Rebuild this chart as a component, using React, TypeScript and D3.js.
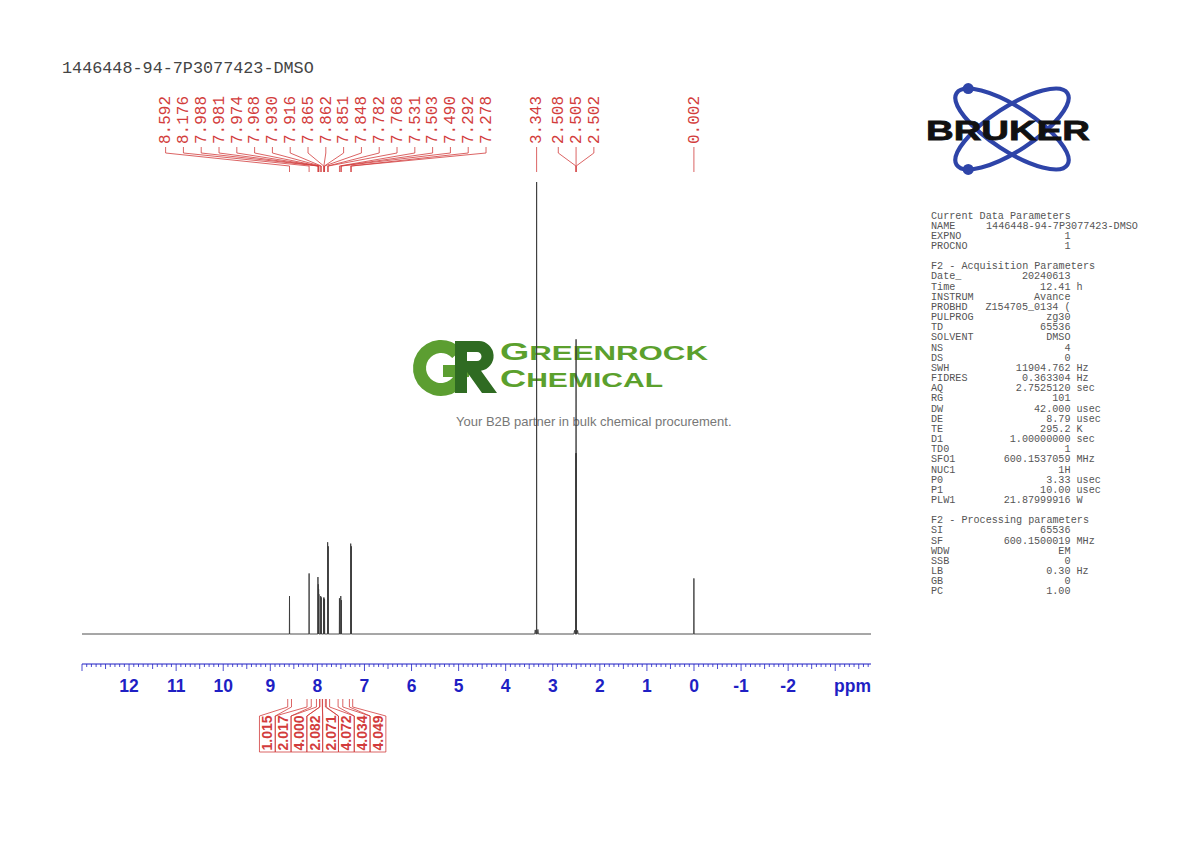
import React from 'react';
import * as d3 from 'd3';

const W = 1190;
const H = 842;

const titleText = '1446448-94-7P3077423-DMSO';

// peak list: chemical shift (ppm) and relative intensity (3.343 = 100)
const peakPpm = [8.592, 8.176, 7.988, 7.981, 7.974, 7.968, 7.930, 7.916, 7.865, 7.862, 7.851, 7.848, 7.782, 7.768, 7.531, 7.503, 7.490, 7.292, 7.278, 3.343, 2.508, 2.505, 2.502, 0.002];
const peakIntensity = [8.4, 13.4, 12.6, 11.0, 9.9, 8.8, 8.4, 8.1, 7.9, 8.1, 7.5, 7.7, 20.3, 19.4, 7.9, 8.4, 7.5, 20.0, 19.4, 100, 40, 65.2, 40, 12.3];
// small unlabeled signals (satellites)
const minorPpm = [3.372, 3.316, 2.538, 2.472];
const minorIntensity = [0.9, 1.0, 0.8, 0.8];

// peak label groups
const labelGroups = [
  [8.592, 8.176, 7.988, 7.981, 7.974, 7.968, 7.930, 7.916, 7.865, 7.862, 7.851, 7.848, 7.782, 7.768, 7.531, 7.503, 7.490, 7.292, 7.278],
  [3.343],
  [2.508, 2.505, 2.502],
  [0.002],
];

// integrals
const integralValues = ['1.015', '2.017', '4.000', '2.082', '2.071', '4.072', '4.034', '4.049'];
const integralFrom = [8.63, 8.22, 8.02, 7.95, 7.89, 7.81, 7.56, 7.32];
const integralTo = [8.55, 8.13, 7.95, 7.895, 7.83, 7.74, 7.46, 7.25];

// axis
const axisMajorTicks = [12, 11, 10, 9, 8, 7, 6, 5, 4, 3, 2, 1, 0, -1, -2];
const axisUnit = 'ppm';

// parameter panel
const paramSection1 = 'Current Data Parameters';
const paramRows1: [string, string, string][] = [
  ['NAME', '1446448-94-7P3077423-DMSO', ''],
  ['EXPNO', '1', ''],
  ['PROCNO', '1', ''],
];
const paramSection2 = 'F2 - Acquisition Parameters';
const paramRows2: [string, string, string][] = [
  ['Date_', '20240613', ''],
  ['Time', '12.41', 'h'],
  ['INSTRUM', 'Avance', ''],
  ['PROBHD', 'Z154705_0134 (', ''],
  ['PULPROG', 'zg30', ''],
  ['TD', '65536', ''],
  ['SOLVENT', 'DMSO', ''],
  ['NS', '4', ''],
  ['DS', '0', ''],
  ['SWH', '11904.762', 'Hz'],
  ['FIDRES', '0.363304', 'Hz'],
  ['AQ', '2.7525120', 'sec'],
  ['RG', '101', ''],
  ['DW', '42.000', 'usec'],
  ['DE', '8.79', 'usec'],
  ['TE', '295.2', 'K'],
  ['D1', '1.00000000', 'sec'],
  ['TD0', '1', ''],
  ['SFO1', '600.1537059', 'MHz'],
  ['NUC1', '1H', ''],
  ['P0', '3.33', 'usec'],
  ['P1', '10.00', 'usec'],
  ['PLW1', '21.87999916', 'W'],
];
const paramSection3 = 'F2 - Processing parameters';
const paramRows3: [string, string, string][] = [
  ['SI', '65536', ''],
  ['SF', '600.1500019', 'MHz'],
  ['WDW', 'EM', ''],
  ['SSB', '0', ''],
  ['LB', '0.30', 'Hz'],
  ['GB', '0', ''],
  ['PC', '1.00', ''],
];

const watermarkLine1 = 'GREENROCK';
const watermarkLine2 = 'CHEMICAL';
const watermarkTagline = 'Your B2B partner in bulk chemical procurement.';
const brandName = 'BRUKER';

const RED = '#d23c3c';
const BLUE = '#1f1fc4';
const MONO = "'Liberation Mono', 'DejaVu Sans Mono', monospace";
const SANS = "'Liberation Sans', Arial, sans-serif";

export default function App() {
  const x = d3.scaleLinear().domain([13.0, -3.76]).range([82, 871]);
  const y = d3.scaleLinear().domain([0, 100]).range([634, 182]);

  // spectrum path
  const peaks = peakPpm
    .map((p, i) => ({ p, h: peakIntensity[i], w: 0.003 }))
    .concat(minorPpm.map((p, i) => ({ p, h: minorIntensity[i], w: 0.012 })))
    .sort((a, b) => b.p - a.p);
  const pts: [number, number][] = [[x.domain()[0], 0]];
  peaks.forEach((d) => {
    pts.push([d.p + d.w, 0], [d.p, d.h], [d.p - d.w, 0]);
  });
  pts.push([x.domain()[1], 0]);
  const line = d3
    .line<[number, number]>()
    .x((d) => x(d[0]))
    .y((d) => y(d[1]));
  const spectrumPath = line(pts) || '';

  // peak labels
  const labelSpacing = 17.8;
  const labels = labelGroups.flatMap((g) => {
    const cx = d3.mean(g, (p) => x(p)) as number;
    return g.map((p, i) => ({
      p,
      lx: cx + (i - (g.length - 1) / 2) * labelSpacing,
      px: x(p),
    }));
  });

  // integrals
  const intSpacing = 15.8;
  const intCenters = integralFrom.map((f, i) => x((f + integralTo[i]) / 2));
  const intCx = d3.mean(intCenters) as number;
  const integrals = integralValues.map((v, i) => ({
    v,
    lx: intCx + (i - (integralValues.length - 1) / 2) * intSpacing,
    x0: x(integralFrom[i]),
    x1: x(integralTo[i]),
  }));

  // axis ticks
  const minorTicks = d3.range(Math.ceil(x.domain()[1] * 10), Math.floor(x.domain()[0] * 10) + 1).map((v) => v / 10);

  // parameters layout
  const lineH = 10.16;
  const py0 = 218.5;
  const rows: { kind: string; label: string; value?: string; unit?: string; row: number }[] = [];
  let r = 0;
  rows.push({ kind: 'h', label: paramSection1, row: r++ });
  paramRows1.forEach(([l, v, u]) => rows.push({ kind: l === 'NAME' ? 'name' : 'r', label: l, value: v, unit: u, row: r++ }));
  r++;
  rows.push({ kind: 'h', label: paramSection2, row: r++ });
  paramRows2.forEach(([l, v, u]) => rows.push({ kind: 'r', label: l, value: v, unit: u, row: r++ }));
  r++;
  rows.push({ kind: 'h', label: paramSection3, row: r++ });
  paramRows3.forEach(([l, v, u]) => rows.push({ kind: 'r', label: l, value: v, unit: u, row: r++ }));

  // Bruker logo geometry
  const lc = { x: 1012, y: 129 };
  const erx = 66;
  const ery = 22;
  const eang = 33;
  const th = (eang * Math.PI) / 180;
  const tt = Math.atan((ery * Math.cos(th)) / (erx * Math.sin(th))) + Math.PI;
  const dotX = erx * Math.cos(tt) * Math.cos(th) - ery * Math.sin(tt) * Math.sin(th);
  const dotY = erx * Math.cos(tt) * Math.sin(th) + ery * Math.sin(tt) * Math.cos(th);

  // Greenrock "G" mark
  const gArc =
    d3
      .arc()
      .innerRadius(15)
      .outerRadius(28)
      .startAngle(Math.PI / 2)
      .endAngle(Math.PI * 2.27)({} as any) || '';

  return (
    <svg
      width={W}
      height={H}
      viewBox={`0 0 ${W} ${H}`}
      style={{ position: 'absolute', left: 0, top: 0, display: 'block', background: '#fff' }}
    >
      <rect x={0} y={0} width={W} height={H} fill="#fff" />

      {/* title */}
      <text x={62} y={73} fontFamily={MONO} fontSize={16.8} fill="#444">
        {titleText}
      </text>

      {/* watermark */}
      <g>
        <g transform="translate(441,368)">
          <path d={gArc} fill="#5c9e31" />
          <rect x={2} y={-3} width={26} height={12} fill="#5c9e31" />
        </g>
        <path
          d="M455,341 H479 A15,15 0 0 1 481,370.8 L497,393 H482 L467,372 V393 H455 Z M467,352 H477 A4.5,4.5 0 0 1 477,361 H467 Z"
          fill="#2f6b22"
          fillRule="evenodd"
        />
        <text x={500} y={360} fontFamily={SANS} fontWeight={700} fill="#5ba02d" textLength={208} lengthAdjust="spacingAndGlyphs">
          <tspan fontSize={23.5}>{watermarkLine1[0]}</tspan>
          <tspan fontSize={19.5}>{watermarkLine1.slice(1)}</tspan>
        </text>
        <text x={500} y={386.5} fontFamily={SANS} fontWeight={700} fill="#5ba02d" textLength={163} lengthAdjust="spacingAndGlyphs">
          <tspan fontSize={23.5}>{watermarkLine2[0]}</tspan>
          <tspan fontSize={19.5}>{watermarkLine2.slice(1)}</tspan>
        </text>
        <text x={456} y={426} fontFamily={SANS} fontSize={13} fill="#777">
          {watermarkTagline}
        </text>
      </g>

      {/* spectrum */}
      <path d={spectrumPath} fill="none" stroke="#3a3a3a" strokeWidth={0.9} strokeLinejoin="round" />

      {/* peak labels */}
      <g>
        {labels.map((d, i) => (
          <g key={i}>
            <text
              transform={`translate(${d.lx},144) rotate(-90)`}
              dy="0.3em"
              fontFamily={MONO}
              fontSize={16}
              fill={RED}
            >
              {d.p.toFixed(3)}
            </text>
            <path
              d={`M${d.lx},147 V153 L${d.px},166 V172`}
              fill="none"
              stroke={RED}
              strokeWidth={0.8}
            />
          </g>
        ))}
      </g>

      {/* axis */}
      <g>
        <line x1={x.range()[0]} x2={x.range()[1]} y1={664} y2={664} stroke={BLUE} strokeWidth={1.2} />
        {minorTicks.map((t, i) => {
          const isMajor = Math.abs(t - Math.round(t)) < 1e-6;
          const isHalf = !isMajor && Math.abs(t * 2 - Math.round(t * 2)) < 1e-6;
          const len = isMajor ? 7 : isHalf ? 5 : 3;
          return <line key={i} x1={x(t)} x2={x(t)} y1={664} y2={664 + len} stroke={BLUE} strokeWidth={0.8} />;
        })}
        {axisMajorTicks.map((t) => (
          <text key={t} x={x(t)} y={692} textAnchor="middle" fontFamily={SANS} fontWeight={700} fontSize={17.5} fill={BLUE}>
            {t}
          </text>
        ))}
        <text x={x.range()[1]} y={692} textAnchor="end" fontFamily={SANS} fontWeight={700} fontSize={17.5} fill={BLUE}>
          {axisUnit}
        </text>
      </g>

      {/* integrals */}
      <g>
        {integrals.map((d, i) => (
          <g key={i}>
            <path
              d={`M${d.x0},699 V707 L${d.lx - intSpacing / 2},716 V752 M${d.x1},699 V707 L${d.lx + intSpacing / 2},716 V752 M${d.lx - intSpacing / 2},752 H${d.lx + intSpacing / 2}`}
              fill="none"
              stroke={RED}
              strokeWidth={0.8}
            />
            <text
              transform={`translate(${d.lx},733) rotate(-90)`}
              dy="0.36em"
              textAnchor="middle"
              fontFamily={SANS}
              fontWeight={700}
              fontSize={14}
              fill={RED}
            >
              {d.v}
            </text>
          </g>
        ))}
      </g>

      {/* Bruker logo */}
      <g>
        <ellipse cx={lc.x} cy={lc.y} rx={erx} ry={ery} transform={`rotate(${eang},${lc.x},${lc.y})`} fill="none" stroke="#2e44a8" strokeWidth={4.2} />
        <ellipse cx={lc.x} cy={lc.y} rx={erx} ry={ery} transform={`rotate(${-eang},${lc.x},${lc.y})`} fill="none" stroke="#2e44a8" strokeWidth={4.2} />
        <circle cx={lc.x + dotX} cy={lc.y + dotY} r={5.5} fill="#2e44a8" />
        <circle cx={lc.x + dotX} cy={lc.y - dotY} r={5.5} fill="#2e44a8" />
        <text x={926} y={140} fontFamily={SANS} fontWeight={900} fontSize={28} fill="#111" textLength={164} lengthAdjust="spacingAndGlyphs" stroke="#111" strokeWidth={0.8}>
          {brandName}
        </text>
      </g>

      {/* parameter panel */}
      <g fontFamily={MONO} fontSize={10.15} fill="#555">
        {rows.map((d, i) => {
          const yy = py0 + d.row * lineH;
          if (d.kind === 'h') {
            return (
              <text key={i} x={931} y={yy}>
                {d.label}
              </text>
            );
          }
          return (
            <g key={i}>
              <text x={931} y={yy}>{d.label}</text>
              {d.kind === 'name' ? (
                <text x={986} y={yy}>{d.value}</text>
              ) : (
                <text x={1070.5} y={yy} textAnchor="end">{d.value}</text>
              )}
              {d.unit ? <text x={1076.5} y={yy}>{d.unit}</text> : null}
            </g>
          );
        })}
      </g>
    </svg>
  );
}
